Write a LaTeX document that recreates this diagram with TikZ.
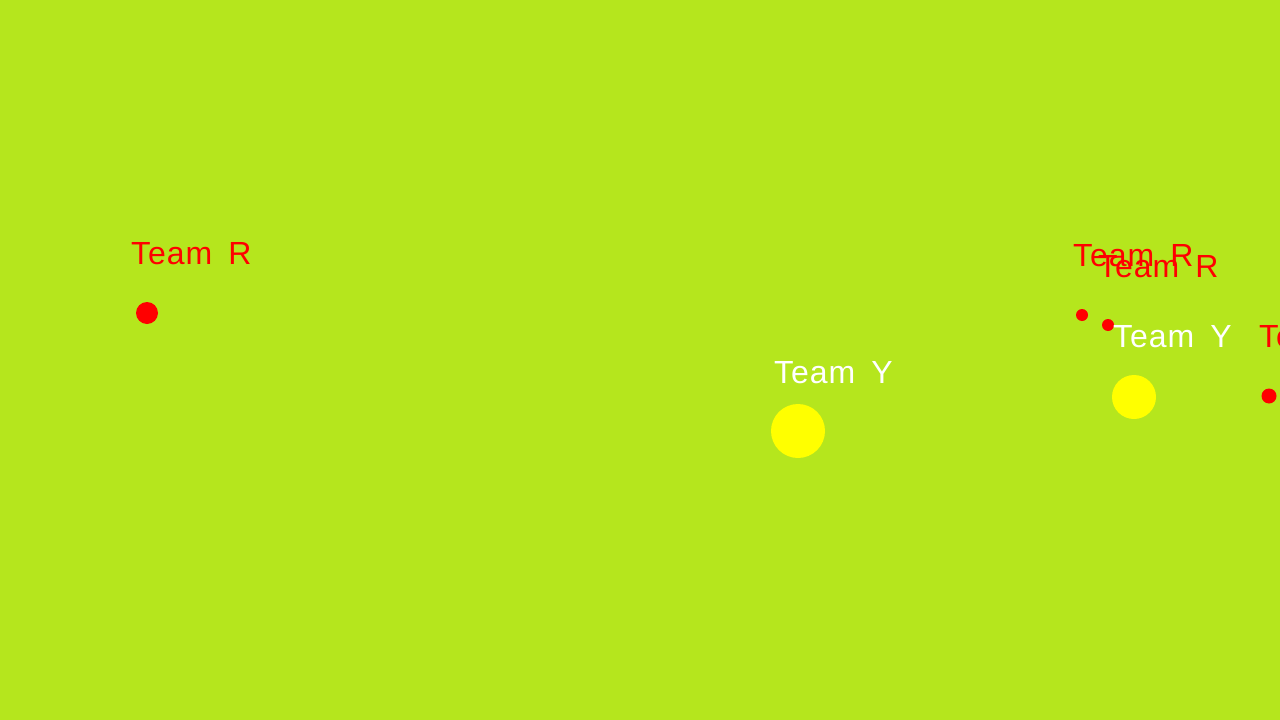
\documentclass[tikz,border=0pt]{standalone}
\usepackage{fontspec}
\setmainfont{Liberation Sans}[LetterSpace=3]
\definecolor{bg}{RGB}{181,230,29}
\definecolor{teamred}{RGB}{255,0,0}
\definecolor{teamyellow}{RGB}{255,255,0}
\newcommand{\teamname}[1]{Team\hspace{0.5em}#1}
\tikzset{
  lbl/.style={anchor=base west, inner sep=0pt, font=\fontsize{32}{36}\selectfont},
  redlbl/.style={lbl, text=teamred},
  ylwlbl/.style={lbl, text=white},
  dot/.style={circle, fill=teamred, draw=none, inner sep=0pt},
  ball/.style={circle, fill=teamyellow, draw=none, inner sep=0pt}
}
\begin{document}
\begin{tikzpicture}[x=1pt,y=-1pt]
\useasboundingbox (0,0) rectangle (1280,720);
\clip (0,0) rectangle (1280,720);
\fill[bg] (0,0) rectangle (1280,720);
% left red player
\node[dot, minimum size=22pt] (r1) at (147,313) {};
\node[redlbl] (r1l) at (131,264) {\teamname{R}};
% middle yellow
\node[ball, minimum size=54pt] (y1) at (798,431) {};
\node[ylwlbl] (y1l) at (774,383) {\teamname{Y}};
% right cluster
\node[redlbl] (r2l) at (1073,266) {\teamname{R}};
\node[dot, minimum size=12pt] (r2) at (1082,315) {};
\node[redlbl] (r3l) at (1098,277) {\teamname{R}};
\node[dot, minimum size=12pt] (r3) at (1108,325) {};
\node[ylwlbl] (y2l) at (1113,347) {\teamname{Y}};
\node[ball, minimum size=44pt] (y2) at (1134,397) {};
\node[redlbl] (r4l) at (1259,347) {\teamname{R}};
\node[dot, minimum size=15pt] (r4) at (1269,396) {};
\end{tikzpicture}
\end{document}
